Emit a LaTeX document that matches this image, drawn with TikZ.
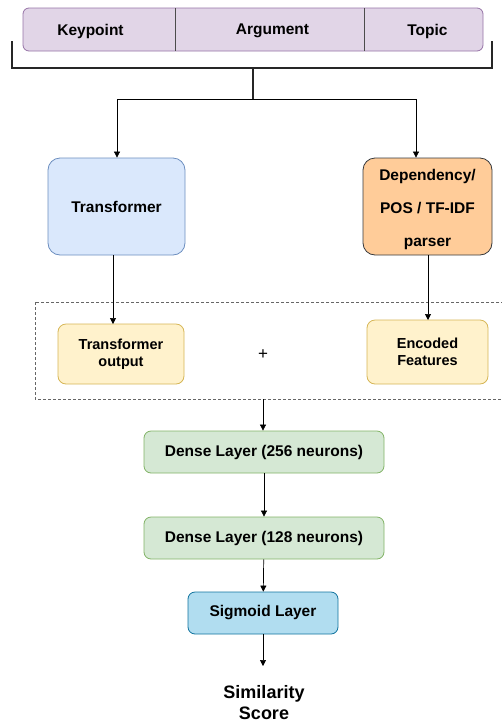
\documentclass[tikz,border=0pt]{standalone}
\usepackage{fontspec}
\setmainfont{Liberation Sans}
\usetikzlibrary{arrows.meta}
\definecolor{purfill}{HTML}{E1D5E7}\definecolor{purline}{HTML}{9673A6}
\definecolor{bluefill}{HTML}{DAE8FC}\definecolor{blueline}{HTML}{6C8EBF}
\definecolor{orfill}{HTML}{FFCC99}\definecolor{orline}{HTML}{36393D}
\definecolor{yelfill}{HTML}{FFF2CC}\definecolor{yelline}{HTML}{D6B656}
\definecolor{grfill}{HTML}{D5E8D4}\definecolor{grline}{HTML}{82B366}
\definecolor{sgfill}{HTML}{B1DDF0}\definecolor{sgline}{HTML}{10739E}
\tikzset{
  box/.style={draw, rounded corners=8pt, line width=0.8pt, font=\fontsize{15.5}{18}\selectfont\bfseries, align=center, inner sep=0pt},
  lbl/.style={font=\fontsize{15.5}{18}\selectfont\bfseries},
  arr/.style={-{Triangle[length=6pt,width=6pt]}, line width=0.7pt, black},
}
\begin{document}
\begin{tikzpicture}[x=1pt,y=-1pt]
\useasboundingbox (0,0) rectangle (502,724);
% top bar
\node[box, draw=purline, fill=purfill, minimum width=460pt, minimum height=43pt, rounded corners=6pt] (bar) at (253,29.5) {};
\draw[line width=0.8pt, draw=black!70] (175,8) -- (175,51) (364,8) -- (364,51);
\node[lbl] (kp) at (90.5,31) {Keypoint};
\node[lbl] (ag) at (272.5,31) {Argument};
\node[lbl] (tp) at (427.5,31) {Topic};
% bracket
\coordinate (bl) at (12,41); \coordinate (br) at (492,41);
\coordinate (bm) at (253,68); \coordinate (split) at (253,99);
\draw[line width=1.4pt, draw=black!85] (bl) |- (bm) -| (br);
\draw[line width=1.4pt, draw=black!85] (bm) -- (split);
% boxes
\node[box, draw=blueline, fill=bluefill, minimum width=137pt, minimum height=97pt, rounded corners=12pt] (tr) at (116.5,206.5) {Transformer};
\node[box, draw=orline, fill=orfill, minimum width=129pt, minimum height=97pt, rounded corners=12pt] (dep) at (427.5,206.5) {};
\node[lbl, align=center] (deptext) at (427.5,209.5) {Dependency/\\[15pt]POS / TF-IDF\\[15pt]parser};
\draw[line width=0.7pt] (117,99) -- (416,99);
\coordinate (tl) at (117,99); \coordinate (tr2) at (416,99);
\draw[arr] (tl) -- (tl |- tr.north);
\draw[arr] (tr2) -- (tr2 |- dep.north);
% dashed region
\draw[dashed, line width=0.7pt, draw=black!60, dash pattern=on 3pt off 2pt] (35,302) rectangle (510,399);
\coordinate (dashbot) at (263,399);
\node[box, draw=yelline, fill=yelfill, minimum width=126pt, minimum height=60pt, rounded corners=8pt, font=\fontsize{14.5}{17}\selectfont\bfseries] (tro) at (121,354) {Transformer\\output};
\node[box, draw=yelline, fill=yelfill, minimum width=121pt, minimum height=64pt, rounded corners=8pt, font=\fontsize{14.5}{17}\selectfont\bfseries] (enc) at (427.5,352) {Encoded\\Features};
\node[font=\fontsize{17}{18}\selectfont] (plus) at (263,355) {+};
\draw[arr] (113,255) -- (113,324);
\draw[arr] (428,255) -- (428,320);
% dense layers
\node[box, draw=grline, fill=grfill, minimum width=240pt, minimum height=42pt, rounded corners=7pt] (d1) at (264,452) {Dense Layer (256 neurons)};
\node[box, draw=grline, fill=grfill, minimum width=240pt, minimum height=42pt, rounded corners=7pt] (d2) at (264,538) {Dense Layer (128 neurons)};
\node[box, draw=sgline, fill=sgfill, minimum width=150pt, minimum height=42pt, rounded corners=7pt] (sg) at (263,613) {Sigmoid Layer};
\node[font=\fontsize{18}{21}\selectfont\bfseries, align=center] (out) at (264,703) {Similarity\\Score};
\coordinate (outtop) at (263,666);
\draw[arr] (dashbot) -- (dashbot |- d1.north);
\draw[arr] (d1) -- (d2);
\draw[arr] (d2) -- (sg);
\draw[arr] (sg) -- (outtop);
\end{tikzpicture}
\end{document}
